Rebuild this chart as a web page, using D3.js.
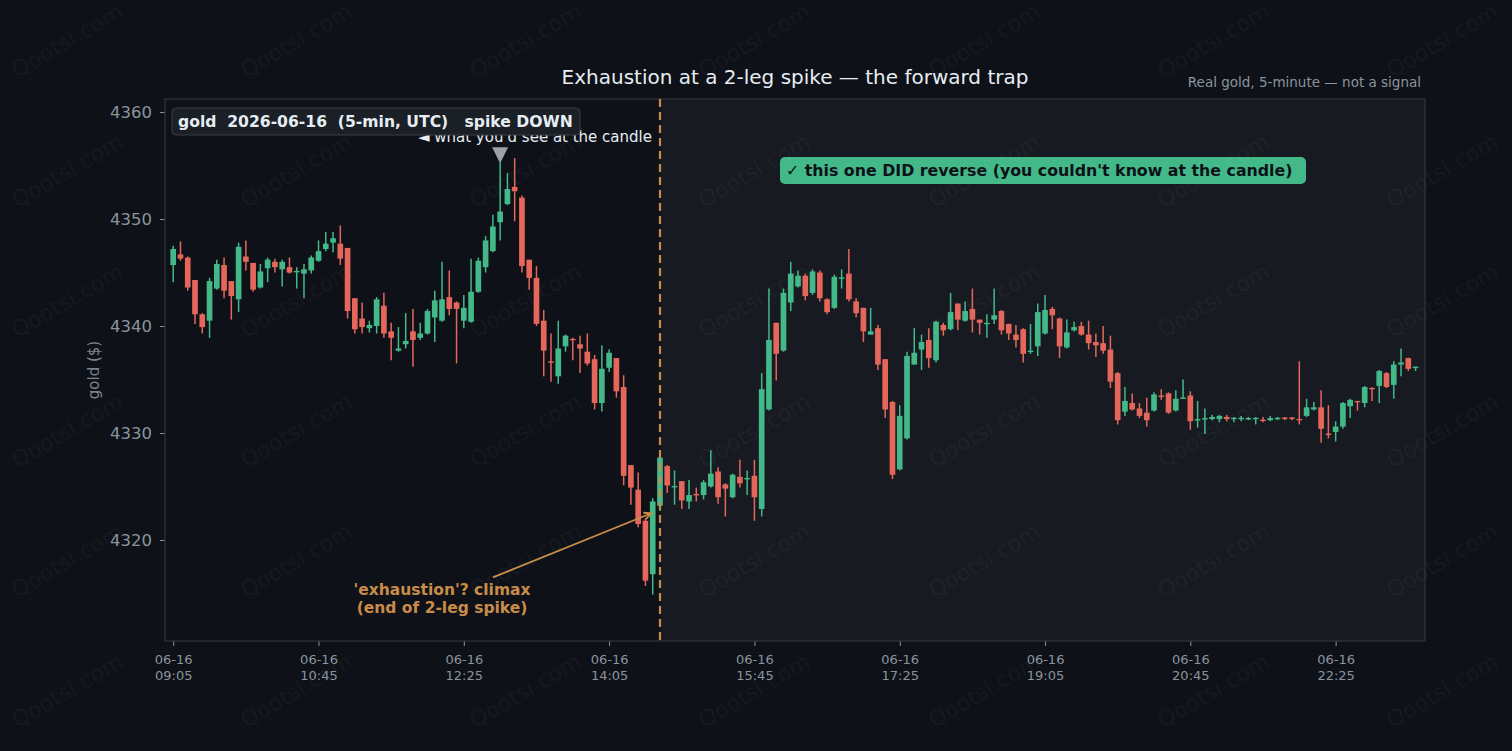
<!DOCTYPE html>
<html>
<head>
<meta charset="utf-8">
<script src="https://cdn.jsdelivr.net/npm/d3@7"></script>
<style>
    body { margin: 0; background: #0e1117; }
    svg { display: block; font-family: "DejaVu Sans", sans-serif; }
</style>
</head>
<body>
<script>

//5-minute gold candles, 06-16 09:05 onwards (one entry per candle)
var opens = [
    4345.7,4346.7,4346.4,4344.3,4341.1,4340.5,4343.5,4345.7,4344.2,4342.5,
    4346.5,4345.9,4343.6,4345.4,4346.0,4345.3,4345.5,4345.1,4344.9,4345.2,
    4346.1,4347.2,4347.8,4347.7,4347.3,4342.6,4340.7,4339.8,4340.0,4341.9,
    4339.5,4337.7,4338.3,4339.5,4338.9,4339.3,4340.8,4340.5,4342.7,4342.2,
    4340.5,4340.4,4343.2,4345.5,4347.0,4349.7,4351.4,4353.0,4352.0,4346.2,
    4344.5,4340.5,4336.7,4335.3,4338.1,4338.8,4338.3,4337.6,4336.9,4332.8,
    4336.1,4337.0,4334.3,4327.0,4324.7,4321.8,4316.8,4323.2,4326.9,4324.95,
    4325.5,4323.6,4324.3,4324.2,4325.0,4326.4,4325.2,4324.0,4325.9,4325.75,
    4326.0,4322.9,4332.2,4340.3,4337.7,4342.2,4343.7,4344.7,4343.1,4345.0,
    4342.5,4341.7,4344.5,4344.9,4342.3,4341.7,4339.2,4339.8,4336.9,4332.9,
    4326.6,4329.5,4336.4,4337.8,4338.7,4336.8,4340.1,4339.7,4342.1,4340.5,
    4341.6,4340.6,4340.25,4340.6,4341.4,4340.2,4339.2,4339.7,4337.6,4338.1,
    4339.3,4341.6,4340.7,4338.0,4339.6,4340.0,4339.2,4338.5,4338.4,4337.8,
    4335.6,4332.0,4332.8,4332.3,4331.9,4332.1,4333.5,4333.7,4332.1,4333.3,
    4333.5,4331.2,4331.35,4331.3,4331.3,4331.5,4331.4,4331.4,4331.3,4331.4,
    4331.25,4331.2,4331.4,4331.45,4331.45,4331.32,4331.6,4332.2,4332.4,4329.95,
    4330.1,4330.6,4332.5,4333.0,4332.8,4334.22,4334.4,4335.6,4334.5,4336.4,
    4337.0,4336.1
];
var highs = [
    4347.5,4347.9,4346.5,4344.3,4341.2,4344.5,4346.2,4346.4,4344.2,4347.8,
    4348.0,4345.9,4345.8,4346.4,4346.3,4346.2,4346.4,4345.5,4345.8,4346.6,
    4348.0,4348.8,4348.8,4349.4,4347.3,4342.6,4342.2,4340.5,4342.7,4343.1,
    4340.3,4339.9,4341.2,4341.6,4340.3,4341.6,4343.3,4346.0,4345.2,4342.3,
    4342.9,4346.3,4346.4,4348.4,4350.4,4355.3,4354.3,4355.7,4352.2,4346.2,
    4345.6,4341.5,4339.3,4340.5,4339.2,4338.9,4339.1,4339.3,4337.3,4338.2,
    4337.8,4337.0,4335.4,4327.0,4326.3,4322.0,4323.9,4327.9,4327.0,4326.5,
    4325.5,4325.6,4324.9,4325.6,4328.4,4326.8,4325.3,4326.2,4327.5,4326.5,
    4327.5,4335.6,4343.5,4340.3,4343.5,4346.0,4345.2,4344.9,4345.3,4345.2,
    4342.6,4344.8,4345.3,4347.2,4342.6,4341.7,4341.7,4340.1,4336.9,4333.0,
    4332.6,4337.6,4339.8,4339.2,4339.8,4340.5,4340.3,4343.1,4342.1,4342.3,
    4343.5,4340.6,4341.1,4343.5,4341.5,4340.2,4340.1,4339.8,4340.2,4342.1,
    4342.9,4341.8,4340.8,4340.6,4340.4,4340.4,4340.5,4339.3,4340.0,4339.1,
    4335.7,4334.3,4333.7,4332.8,4333.3,4333.8,4334.1,4333.8,4334.0,4335.0,
    4333.9,4333.0,4332.3,4331.7,4331.7,4331.7,4331.5,4331.6,4331.5,4331.5,
    4331.5,4331.6,4331.5,4331.5,4331.5,4336.7,4333.2,4332.9,4334.0,4332.6,
    4331.1,4332.9,4333.2,4333.0,4334.4,4334.25,4335.9,4335.7,4336.7,4337.9,
    4337.05,4336.2
];
var lows = [
    4344.1,4346.1,4343.3,4340.2,4339.3,4338.9,4343.4,4342.6,4340.6,4341.3,
    4345.2,4343.2,4343.5,4344.1,4345.0,4343.7,4344.9,4343.5,4342.6,4344.9,
    4346.0,4347.0,4346.9,4345.7,4340.7,4339.3,4339.3,4339.4,4339.3,4338.9,
    4336.8,4337.6,4337.9,4336.2,4338.7,4339.2,4338.5,4340.4,4341.0,4336.5,
    4339.8,4340.3,4343.1,4345.0,4346.9,4348.0,4351.3,4349.8,4345.0,4343.4,
    4340.0,4335.3,4334.8,4334.6,4337.6,4336.8,4335.6,4336.3,4332.2,4332.0,
    4335.7,4333.3,4325.1,4323.3,4321.2,4315.7,4314.9,4322.7,4324.4,4323.3,
    4322.9,4322.9,4323.6,4323.8,4324.9,4323.4,4322.2,4323.9,4324.9,4324.2,
    4321.8,4322.2,4332.1,4334.9,4337.6,4341.4,4343.6,4342.4,4342.9,4342.3,
    4341.1,4341.6,4343.5,4342.3,4340.8,4338.5,4339.2,4335.9,4331.4,4325.7,
    4326.5,4329.4,4336.4,4335.9,4336.1,4336.6,4339.1,4339.6,4339.6,4340.4,
    4339.4,4339.2,4338.9,4340.2,4339.2,4338.7,4338.0,4336.6,4337.4,4337.2,
    4339.2,4339.7,4337.0,4337.9,4339.5,4339.1,4337.8,4337.1,4337.4,4334.2,
    4330.8,4331.6,4332.1,4331.4,4330.6,4332.0,4333.1,4331.8,4332.0,4333.27,
    4330.3,4330.5,4329.9,4331.2,4331.0,4331.1,4331.0,4331.1,4331.2,4330.8,
    4331.0,4331.1,4331.2,4331.2,4331.2,4330.8,4331.5,4332.1,4329.1,4329.5,
    4329.2,4330.4,4331.4,4332.1,4332.4,4333.0,4332.8,4334.2,4333.2,4335.3,
    4335.8,4335.8
];
var closes = [
    4347.2,4346.3,4343.6,4341.1,4339.9,4344.2,4345.8,4343.3,4342.8,4347.4,
    4346.0,4343.4,4345.1,4346.2,4345.5,4346.0,4345.0,4345.15,4345.3,4346.4,
    4347.0,4347.7,4348.2,4346.3,4341.4,4339.7,4339.9,4340.1,4342.5,4339.3,
    4338.9,4337.9,4338.6,4338.7,4339.3,4341.4,4342.4,4342.5,4341.6,4341.6,
    4341.7,4343.2,4346.1,4348.0,4349.3,4350.7,4352.8,4352.6,4345.6,4344.5,
    4340.2,4337.7,4336.6,4337.9,4339.1,4338.7,4337.9,4336.5,4332.8,4336.0,
    4337.5,4333.9,4326.0,4324.9,4321.5,4316.2,4323.6,4327.7,4325.1,4325.05,
    4323.7,4324.2,4324.25,4325.4,4326.2,4324.0,4324.8,4326.1,4325.3,4325.8,
    4324.0,4334.1,4338.7,4337.4,4343.1,4344.9,4344.7,4342.8,4345.1,4342.6,
    4341.3,4344.6,4344.55,4342.5,4341.2,4339.5,4339.5,4336.4,4332.2,4326.1,
    4331.6,4337.2,4337.5,4338.5,4337.0,4340.4,4339.6,4341.3,4340.6,4341.4,
    4340.6,4340.3,4340.3,4341.0,4339.6,4339.3,4338.7,4337.4,4337.7,4341.3,
    4341.5,4341.0,4338.1,4339.4,4339.9,4339.2,4338.4,4338.2,4337.7,4334.8,
    4331.2,4333.0,4332.2,4331.6,4331.2,4333.6,4333.45,4331.9,4333.2,4333.32,
    4331.1,4331.3,4331.4,4331.5,4331.6,4331.3,4331.42,4331.42,4331.4,4331.42,
    4331.2,4331.4,4331.42,4331.4,4331.4,4331.3,4332.4,4332.4,4330.4,4329.9,
    4330.6,4332.8,4333.1,4332.95,4334.3,4334.2,4335.8,4334.3,4336.4,4336.6,
    4336.0,4336.2
];

//x tick labels (every 20 candles = 100 min)
var tickDate = "06-16";
var tickTimes = ["09:05", "10:45", "12:25", "14:05", "15:45", "17:25", "19:05", "20:45", "22:25"];
var yTicks = [4320, 4330, 4340, 4350, 4360];

var spikeIndex = 45;     //top of the spike (marker)
var trapIndex = 67;      //dashed line, candle after the climax

//Set height and width
var w = 1512;
var h = 751;

var margin = {
    top: 99,
    bottom: 110,
    right: 87,
    left: 165
};

var height = h - margin.top - margin.bottom;
var width = w - margin.left - margin.right;

var green = "#43b98a";
var red = "#e5675b";
var muted = "#8b949e";
var orange = "#c98c48";

//Set up scales
var x = d3.scaleLinear()
    .domain([-1.13, 172.3])
    .range([0, width]);

var y = d3.scaleLinear()
    .domain([4310.56, 4361.22])
    .range([height, 0]);

var candles = opens.map(function(o, i) {
    return { i: i, o: o, h: highs[i], l: lows[i], c: closes[i] };
});

var bodyW = (x(1) - x(0)) * 0.78;

var svg = d3.select("body").append("svg")
    .attr("width", w)
    .attr("height", h);

svg.append("rect")
    .attr("width", w)
    .attr("height", h)
    .attr("fill", "#0e1117");

//Title + subtitle
svg.append("text")
    .attr("x", margin.left + width / 2)
    .attr("y", 78)
    .attr("text-anchor", "middle")
    .attr("dominant-baseline", "middle")
    .style("font-size", "20px")
    .style("fill", "#e6edf3")
    .text("Exhaustion at a 2-leg spike \u2014 the forward trap");

svg.append("text")
    .attr("x", margin.left + width - 4)
    .attr("y", 83)
    .attr("text-anchor", "end")
    .attr("dominant-baseline", "middle")
    .style("font-size", "13.5px")
    .style("fill", muted)
    .text("Real gold, 5-minute \u2014 not a signal");

var chart = svg.append("g")
    .attr("transform", "translate(" + margin.left + "," + margin.top + ")");

//after-the-candle region is shaded a bit lighter
chart.append("rect")
    .attr("x", x(trapIndex))
    .attr("y", 0)
    .attr("width", width - x(trapIndex))
    .attr("height", height)
    .attr("fill", "#171a21");

//Axes
var yAxis = d3.axisLeft(y).tickValues(yTicks).tickSize(5).tickPadding(8).tickFormat(d3.format("d"));
var xAxis = d3.axisBottom(x)
    .tickValues(d3.range(0, 161, 20))
    .tickSize(5)
    .tickPadding(9)
    .tickFormat(function(d) { return tickTimes[d / 20]; });

var gy = chart.append("g").call(yAxis);
gy.select(".domain").remove();
gy.selectAll("line").attr("stroke", muted);
gy.selectAll("text")
    .style("font-size", "16.5px")
    .style("font-family", "'DejaVu Sans', sans-serif")
    .style("fill", muted);

var gx = chart.append("g")
    .attr("transform", "translate(0," + height + ")")
    .call(xAxis);
gx.select(".domain").remove();
gx.selectAll("line").attr("stroke", muted);
gx.selectAll("text").each(function(d) {
    var t = d3.select(this);
    t.text(null)
        .style("font-size", "13px")
        .style("font-family", "'DejaVu Sans', sans-serif")
        .style("fill", muted);
    t.append("tspan").attr("x", 0).attr("dy", "0.71em").text(tickDate);
    t.append("tspan").attr("x", 0).attr("dy", "1.2em").text(tickTimes[d / 20]);
});

//frame
chart.append("rect")
    .attr("width", width)
    .attr("height", height)
    .attr("fill", "none")
    .attr("stroke", "#30363d")
    .attr("stroke-width", 1.2);

//y label
chart.append("text")
    .attr("transform", "translate(" + (-71) + "," + (height / 2) + ") rotate(-90)")
    .attr("text-anchor", "middle")
    .attr("dominant-baseline", "middle")
    .style("font-size", "15px")
    .style("fill", "#7d8590")
    .text("gold ($)");

//Candles: wicks then bodies
chart.selectAll(".wick")
    .data(candles)
    .enter()
        .append("line")
        .classed("wick", true)
        .attr("x1", function(d) { return x(d.i); })
        .attr("x2", function(d) { return x(d.i); })
        .attr("y1", function(d) { return y(d.h); })
        .attr("y2", function(d) { return y(d.l); })
        .attr("stroke", function(d) { return d.c >= d.o ? green : red; })
        .attr("stroke-width", 1.5);

chart.selectAll(".body")
    .data(candles)
    .enter()
        .append("rect")
        .classed("body", true)
        .attr("x", function(d) { return x(d.i) - bodyW / 2; })
        .attr("y", function(d) { return y(Math.max(d.o, d.c)); })
        .attr("width", bodyW)
        .attr("height", function(d) { return Math.max(1.4, Math.abs(y(d.o) - y(d.c))); })
        .attr("fill", function(d) { return d.c >= d.o ? green : red; });

//dashed "now" line
chart.append("line")
    .attr("x1", x(trapIndex))
    .attr("x2", x(trapIndex))
    .attr("y1", 0)
    .attr("y2", height)
    .attr("stroke", orange)
    .attr("stroke-width", 2.2)
    .attr("stroke-dasharray", "8,5");

//marker over the spike top
var mx = x(spikeIndex);
var my = y(highs[spikeIndex]) + 1;
chart.append("path")
    .attr("d", "M" + (mx - 8) + "," + (my - 16) + "L" + (mx + 8) + "," + (my - 16) + "L" + mx + "," + my + "Z")
    .attr("fill", "#9aa1ab");

chart.append("text")
    .attr("x", x(65.9))
    .attr("y", y(4357.66))
    .attr("text-anchor", "end")
    .attr("dominant-baseline", "middle")
    .style("font-size", "15px")
    .style("fill", "#e6edf3")
    .text("\u25C4 what you'd see at the candle");

//info box (drawn over the label, like the original)
chart.append("rect")
    .attr("x", 7)
    .attr("y", 9)
    .attr("width", 408)
    .attr("height", 27)
    .attr("rx", 4)
    .attr("fill", "#1b1f26")
    .attr("stroke", "#3a3f47");

chart.append("text")
    .attr("x", 13)
    .attr("y", 23)
    .attr("dominant-baseline", "middle")
    .attr("xml:space", "preserve")
    .style("white-space", "pre")
    .style("font-size", "15.6px")
    .style("font-weight", "bold")
    .style("fill", "#e6edf3")
    .text("gold  2026-06-16  (5-min, UTC)   spike DOWN");

//green verdict box
chart.append("rect")
    .attr("x", 615)
    .attr("y", 58)
    .attr("width", 526)
    .attr("height", 27)
    .attr("rx", 5)
    .attr("fill", green);

chart.append("text")
    .attr("x", 621)
    .attr("y", 72)
    .attr("dominant-baseline", "middle")
    .style("font-size", "15.8px")
    .style("font-weight", "bold")
    .style("fill", "#0d1117")
    .text("\u2713 this one DID reverse (you couldn't know at the candle)");

//climax annotation with arrow
chart.append("line")
    .attr("x1", x(44.0))
    .attr("y1", y(4316.5))
    .attr("x2", x(65.8))
    .attr("y2", y(4322.5))
    .attr("stroke", orange)
    .attr("stroke-width", 1.8);

var ang = Math.atan2(y(4322.5) - y(4316.5), x(65.8) - x(44.0));
var ax = x(65.8), ay = y(4322.5);
chart.append("path")
    .attr("d", "M" + (ax - 8 * Math.cos(ang - 0.45)) + "," + (ay - 8 * Math.sin(ang - 0.45)) +
        "L" + ax + "," + ay +
        "L" + (ax - 8 * Math.cos(ang + 0.45)) + "," + (ay - 8 * Math.sin(ang + 0.45)))
    .attr("fill", "none")
    .attr("stroke", orange)
    .attr("stroke-width", 1.8);

var note = chart.append("text")
    .attr("text-anchor", "middle")
    .style("font-size", "15.5px")
    .style("font-weight", "bold")
    .style("fill", orange);
note.append("tspan").attr("x", x(37.0)).attr("y", y(4315.4)).attr("dy", "0.35em").text("'exhaustion'? climax");
note.append("tspan").attr("x", x(37.0)).attr("y", y(4315.4) + 18).attr("dy", "0.35em").text("(end of 2-leg spike)");

//watermark grid
var wmX = [68, 297, 526, 755, 985, 1214, 1443];
var wmY = [42, 172, 302, 432, 562, 692];
wmY.forEach(function(yy) {
    wmX.forEach(function(xx) {
        svg.append("text")
            .attr("transform", "translate(" + xx + "," + yy + ") rotate(-30)")
            .attr("text-anchor", "middle")
            .attr("dominant-baseline", "middle")
            .style("font-size", "22px")
            .style("fill", "#ffffff")
            .style("fill-opacity", 0.05)
            .text("Qootsi.com");
    });
});

</script>
</body>
</html>
